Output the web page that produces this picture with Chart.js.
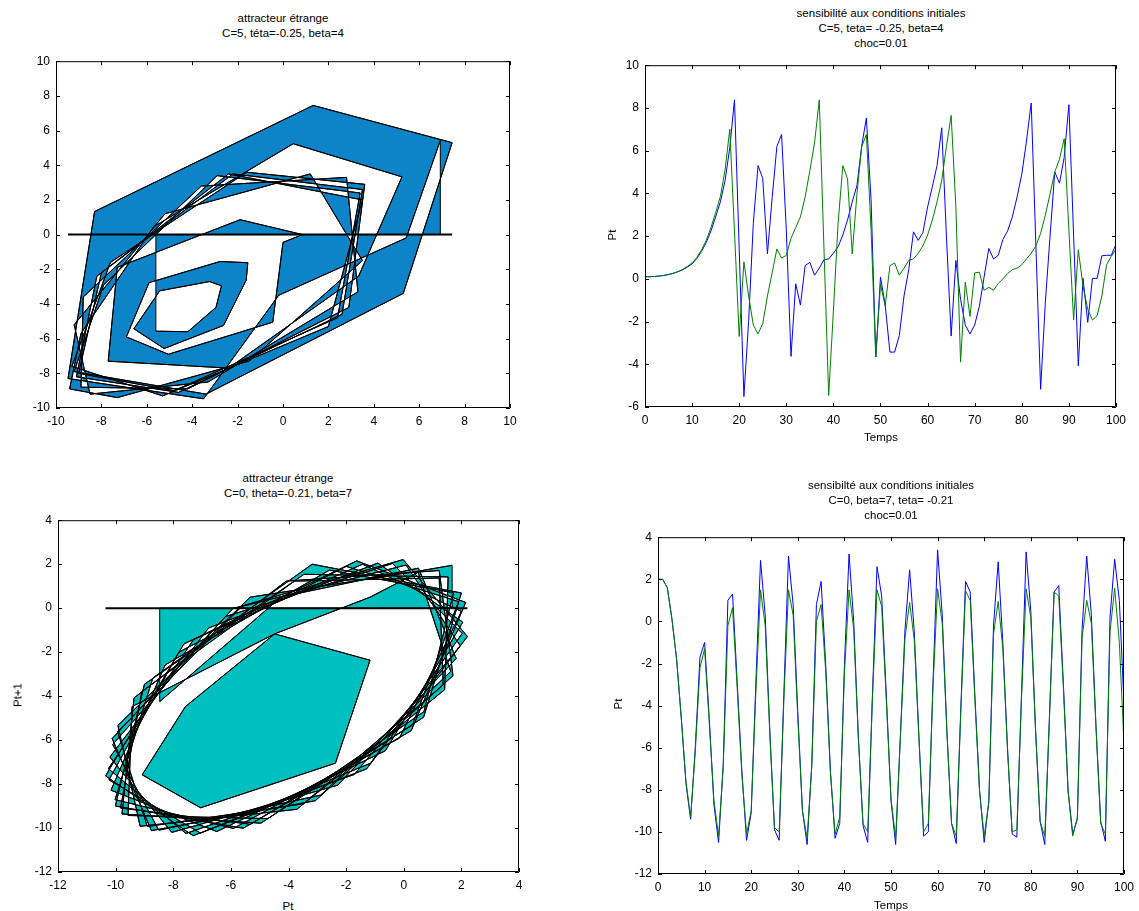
<!DOCTYPE html>
<html>
<head>
<meta charset="utf-8">
<script src="https://cdn.jsdelivr.net/npm/chart.js@4.4.1/dist/chart.umd.min.js"></script>
<style>
  html, body { margin: 0; padding: 0; background: #fff; }
  body { width: 1139px; height: 911px; position: relative; overflow: hidden;
         font-family: "Liberation Sans", Arial, sans-serif; color: #000; }
  canvas { position: absolute; }
  .txt { position: absolute; white-space: nowrap; font-size: 11.5px; line-height: 15px;
         text-align: center; transform: translate(-50%, -50%); }
  .rot { transform: translate(-50%, -50%) rotate(-90deg); }
</style>
</head>
<body>
<canvas id="tl"></canvas>
<canvas id="tr"></canvas>
<canvas id="bl"></canvas>
<canvas id="br"></canvas>

<div class="txt" style="left:283px;top:26px">attracteur étrange<br>C=5, téta=-0.25, beta=4</div>
<div class="txt" style="left:881px;top:28px">sensibilité aux conditions initiales<br>C=5, teta= -0.25, beta=4<br>choc=0.01</div>
<div class="txt rot" style="left:612px;top:235px">Pt</div>
<div class="txt" style="left:881px;top:437px">Temps</div>

<div class="txt" style="left:288px;top:486px">attracteur étrange<br>C=0, theta=-0.21, beta=7</div>
<div class="txt rot" style="left:18px;top:695px">Pt+1</div>
<div class="txt" style="left:288px;top:906px">Pt</div>

<div class="txt" style="left:891px;top:500px">sensibilté aux conditions initiales<br>C=0, beta=7, teta= -0.21<br>choc=0.01</div>
<div class="txt rot" style="left:618px;top:704px">Pt</div>
<div class="txt" style="left:891px;top:905px">Temps</div>

<script>
// ---- Strange attractor, C=5, theta=-0.25, beta=4 : successive values of P(t)
const tlSeq = [6.93, 5.43, -0.19, -3.5, -9.47, -8.3, 1.33, 7.45, 5.3, -3.39,
  -9.2, -7.9, -2.9, 3.4, 2.4, -4.8,
  -9.0, -8.0, -2.2, 3.5, 2.6, -4.6,
  -9.1, -8.2, -2.4, 3.5, 2.0, -5.3,
  -9.3, -7.6, -1.6, 3.6, 2.9, -4.2,
  -8.9, -8.8, -3.6, 2.8, 3.3, -3.3,
  -8.5, -9.2, -5.2, 1.2, 3.5, -1.5,
  -7.3, -9.4, -8.9, -5.7, 0.45, 5.24, 3.33, -2.4, -7.7, -7.3, -1.89, 0.86, 0.0, -0.45,
  -5.05, -6.9, -5.9, -2.77, -1.55, -1.62, -2.62, -5.24, -6.57, -5.43, -3.24, -2.71,
  -2.95, -4.19, -5.6, -5.57];

// ---- Strange attractor, C=0, theta=-0.21, beta=7 : successive values of P(t)
const blSeq = [-8.47, -4.25, 0.51, 1.82, -2.29, -8.05, -10.20, -6.77, -0.90, 2.05,
  -0.64, -6.49, -10.16, -8.28, -2.58, 1.73, 0.70, -4.71, -9.57, -9.43,
  -4.48, -1.17, -2.37, -7.05, -9.08, -7.58, -4.48, -1.17, 0.50,
  1.63, -2.88, -8.50, -10.10, -6.20, -0.39, 2.03, -1.15, -7.05, -10.23, -7.81,
  -2.00, 1.90, 0.30, -5.32, -9.83, -9.09, -3.79, 1.23, 1.37, -3.49, -8.90, -9.93,
  -5.62, 0.08, 1.96, -1.71, -7.56, -10.25, -7.30, -1.43, 2.00, -0.15, -5.91, -10.02,
  -8.71, -3.18, 2.00, 0.69, -4.96, -9.78, -9.36, -4.08, 1.23, 1.71, -3.07, -8.76,
  -10.12, -5.93, -0.02, 2.21, -1.29, -7.31, -10.35, -7.63, -1.63, 2.15, 0.26, -5.57,
  -10.01, -9.00, -3.46, 1.54, 1.42, -3.71, -9.15, -9.92, -5.33, 0.50, 1.68, 1.95];

// ---- Sensitivity to initial conditions, C=5 (t = 0..100)
const trBase = [0.10, 0.10, 0.11, 0.13, 0.16, 0.20, 0.26, 0.33, 0.42, 0.55,
  0.70, 0.95, 1.28, 1.70, 2.24, 2.90, 3.60, 4.60, 6.14, 8.38,
  1.40, -5.51, -2.00, 2.60, 5.30, 4.70, 1.17, 3.80, 6.20, 6.76,
  2.30, -3.63, -0.23, -1.23, 0.62, 0.77, 0.17, 0.50, 0.90, 0.93,
  1.20, 1.50, 2.05, 2.75, 3.60, 4.37, 6.20, 7.53, 3.70, -3.66,
  0.08, -1.23, -3.43, -3.43, -2.65, -0.80, 0.43, 2.20, 1.80, 2.16,
  3.36, 4.30, 5.30, 7.07, 2.00, -2.68, 0.86, -0.96, -2.16, -2.58,
  -2.16, -1.27, 0.09, 1.42, 0.93, 1.10, 1.85, 2.25, 2.90, 3.83,
  4.90, 6.45, 8.23, 1.53, -5.17, -1.10, 2.00, 5.00, 4.48, 5.68,
  8.15, 2.04, -4.07, 0.03, -2.04, 0.02, 0.02, 1.08, 1.10, 1.10,
  1.62];
const trShock = [0.10, 0.10, 0.11, 0.13, 0.16, 0.20, 0.26, 0.34, 0.44, 0.58,
  0.75, 1.00, 1.35, 1.80, 2.40, 3.10, 3.85, 5.10, 7.00, 2.20,
  -2.70, 0.80, -0.80, -2.16, -2.58, -2.10, -0.80, 0.28, 1.40, 0.97,
  1.10, 1.90, 2.40, 2.90, 3.83, 5.06, 6.37, 8.38, 1.40, -5.46,
  -1.50, 2.60, 5.30, 4.68, 1.17, 3.98, 6.17, 6.76, 2.30, -3.66,
  -0.26, -1.27, 0.62, 0.74, 0.17, 0.50, 0.86, 0.93, 1.20, 1.54,
  2.05, 2.75, 3.60, 4.60, 6.20, 7.65, 3.40, -3.90, -0.15, -1.76,
  0.28, 0.31, -0.54, -0.39, -0.54, -0.22, 0.00, 0.25, 0.43, 0.50,
  0.66, 0.93, 1.20, 1.54, 2.13, 2.98, 3.98, 5.00, 5.60, 6.56,
  2.30, -1.93, 1.36, -0.34, -1.42, -1.93, -1.73, -0.80, 0.66, 1.05,
  1.39];

// ---- Sensitivity to initial conditions, C=0 (t = 0..100)
const brBase = [2.00, 2.00, 1.60, 0.10, -1.80, -4.60, -7.70, -9.40, -6.00, -1.70,
  -1.00, -4.60, -8.70, -10.50, -6.80, 1.00, 1.30, -2.90, -7.10, -10.40,
  -9.10, -2.90, 2.90, 0.30, -5.20, -9.90, -10.40, -3.50, 3.10, 0.80,
  -4.30, -9.00, -10.60, -6.80, 0.80, 1.90, -2.10, -7.10, -10.30, -9.60,
  -2.10, 3.20, 0.00, -5.50, -9.70, -10.50, -3.60, 2.60, 1.20, -3.50,
  -8.50, -10.60, -5.50, -0.40, 2.45, -0.50, -5.50, -10.20, -10.00, -3.00,
  3.40, 0.30, -5.20, -9.60, -10.55, -4.00, 1.90, 1.40, -3.50, -8.00,
  -10.50, -8.50, -0.20, 2.83, -1.00, -6.00, -10.10, -10.25, -3.50, 3.30,
  0.50, -5.00, -9.50, -10.60, -4.50, 1.40, 1.70, -3.00, -8.00, -10.10,
  -9.40, -0.40, 3.10, 0.30, -5.00, -9.50, -10.45, 0.20, 2.95, 1.00,
  -3.90];
const brShock = [2.00, 2.00, 1.60, 0.10, -1.80, -4.60, -7.60, -9.30, -6.20, -2.20,
  -1.30, -4.80, -8.50, -10.20, -6.90, -0.20, 0.65, -3.20, -7.30, -10.10,
  -9.00, -3.40, 1.50, -0.20, -5.40, -9.80, -10.00, -3.80, 1.50, 0.30,
  -4.60, -9.00, -10.30, -6.90, 0.00, 0.80, -2.40, -7.20, -10.10, -9.30,
  -2.50, 1.50, -0.40, -5.60, -9.60, -10.00, -3.80, 1.50, 0.70, -3.80,
  -8.40, -10.30, -5.60, -0.80, 0.90, -0.90, -5.60, -10.00, -9.60, -3.20,
  1.55, -0.10, -5.30, -9.60, -10.20, -4.20, 1.45, 1.00, -3.70, -8.10,
  -10.20, -8.60, -0.60, 0.95, -1.30, -6.10, -10.00, -9.90, -3.70, 1.55,
  0.20, -5.10, -9.50, -10.20, -4.70, 1.40, 1.20, -3.20, -8.10, -10.20,
  -9.30, -0.80, 1.00, -0.10, -5.10, -9.60, -10.10, -0.50, 1.57, -1.00,
  -5.80];

// ---------------------------------------------------------------------------
Chart.defaults.font.family = '"Liberation Sans", Arial, sans-serif';
Chart.defaults.font.size = 12;
Chart.defaults.color = '#000';

// Pairs (P(t), P(t+1)) for a phase portrait
const phasePairs = seq => seq.slice(0, -1).map((v, i) => ({ x: v, y: seq[i + 1] }));
const timePairs = vals => vals.map((v, i) => ({ x: i, y: v }));

// Axes frame with inward tick marks on all four sides
const frame = {
  id: 'frame',
  afterDraw(chart) {
    const { ctx, chartArea: a, scales: { x, y } } = chart;
    const L = 4;
    ctx.save();
    ctx.strokeStyle = '#000';
    ctx.lineWidth = 1;
    ctx.beginPath();
    ctx.rect(a.left + 0.5, a.top + 0.5, a.right - a.left - 1, a.bottom - a.top - 1);
    x.ticks.forEach(t => {
      const px = Math.round(x.getPixelForValue(t.value)) + 0.5;
      ctx.moveTo(px, a.bottom); ctx.lineTo(px, a.bottom - L);
      ctx.moveTo(px, a.top); ctx.lineTo(px, a.top + L);
    });
    y.ticks.forEach(t => {
      const py = Math.round(y.getPixelForValue(t.value)) + 0.5;
      ctx.moveTo(a.left, py); ctx.lineTo(a.left + L, py);
      ctx.moveTo(a.right, py); ctx.lineTo(a.right - L, py);
    });
    ctx.stroke();
    ctx.restore();
  }
};

// Area between the phase trajectory and the zero baseline (even-odd filled)
const areaFill = {
  id: 'areaFill',
  beforeDatasetsDraw(chart, args, opts) {
    if (!opts.seq) return;
    const { ctx, chartArea: a, scales: { x, y } } = chart;
    const s = opts.seq;
    const n = s.length;
    ctx.save();
    ctx.beginPath();
    ctx.rect(a.left, a.top, a.right - a.left, a.bottom - a.top);
    ctx.clip();
    ctx.beginPath();
    ctx.moveTo(x.getPixelForValue(s[0]), y.getPixelForValue(0));
    for (let i = 0; i < n - 1; i++) {
      ctx.lineTo(x.getPixelForValue(s[i]), y.getPixelForValue(s[i + 1]));
    }
    ctx.lineTo(x.getPixelForValue(s[n - 2]), y.getPixelForValue(0));
    ctx.closePath();
    ctx.fillStyle = opts.color;
    ctx.fill('evenodd');
    ctx.strokeStyle = '#000';
    ctx.lineWidth = 1;
    ctx.stroke();
    ctx.restore();
  }
};

function makeChart(id, box, xr, yr, datasets, fillOpts) {
  const cv = document.getElementById(id);
  const W = box.r - box.l + 65, H = box.b - box.t + 35;
  cv.width = W; cv.height = H;
  cv.style.left = (box.l - 50) + 'px';
  cv.style.top = (box.t - 10) + 'px';
  cv.style.width = W + 'px';
  cv.style.height = H + 'px';
  return new Chart(cv, {
    type: 'scatter',
    data: { datasets },
    plugins: [areaFill, frame],
    options: {
      responsive: false,
      animation: false,
      devicePixelRatio: 1,
      events: [],
      layout: { padding: { left: 0, top: 10, right: 15, bottom: 0 } },
      plugins: {
        legend: { display: false },
        tooltip: { enabled: false },
        areaFill: fillOpts || {}
      },
      scales: {
        x: {
          type: 'linear', min: xr[0], max: xr[1],
          grid: { display: false, drawTicks: false, tickLength: 0 },
          border: { display: false },
          ticks: { stepSize: xr[2], padding: 6, maxRotation: 0, autoSkip: false },
          afterFit(s) { s.height = 25; }
        },
        y: {
          type: 'linear', min: yr[0], max: yr[1],
          grid: { display: false, drawTicks: false, tickLength: 0 },
          border: { display: false },
          ticks: { stepSize: yr[2], padding: 6, autoSkip: false },
          afterFit(s) { s.width = 50; }
        }
      }
    }
  });
}

const lineDs = (data, color, width, order) => ({
  data, borderColor: color, backgroundColor: color, borderWidth: width,
  showLine: true, pointRadius: 0, fill: false, tension: 0, order
});

const baseline = seq => [{ x: Math.min(...seq), y: 0 }, { x: Math.max(...seq), y: 0 }];

// Top left : attractor, C=5
makeChart('tl', { l: 56, r: 510, t: 58, b: 408 }, [-10, 10, 2], [-10, 10, 2], [
  lineDs(baseline(tlSeq), '#000', 2, 0),
  lineDs(phasePairs(tlSeq), '#000', 1, 1)
], { seq: tlSeq, color: '#0c84c7' });

// Top right : two trajectories, C=5
makeChart('tr', { l: 645, r: 1117, t: 62, b: 407 }, [0, 100, 10], [-6, 10, 2], [
  lineDs(timePairs(trShock), '#008000', 1, 0),
  lineDs(timePairs(trBase), '#0000ff', 1, 1)
]);

// Bottom left : attractor, C=0
makeChart('bl', { l: 58, r: 519, t: 517, b: 872 }, [-12, 4, 2], [-12, 4, 2], [
  lineDs(baseline(blSeq), '#000', 2, 0),
  lineDs(phasePairs(blSeq), '#000', 1, 1)
], { seq: blSeq, color: '#00bfbf' });

// Bottom right : two trajectories, C=0
makeChart('br', { l: 658, r: 1125, t: 534, b: 874 }, [0, 100, 10], [-12, 4, 2], [
  lineDs(timePairs(brShock), '#008000', 1, 0),
  lineDs(timePairs(brBase), '#0000ff', 1, 1)
]);
</script>
</body>
</html>
